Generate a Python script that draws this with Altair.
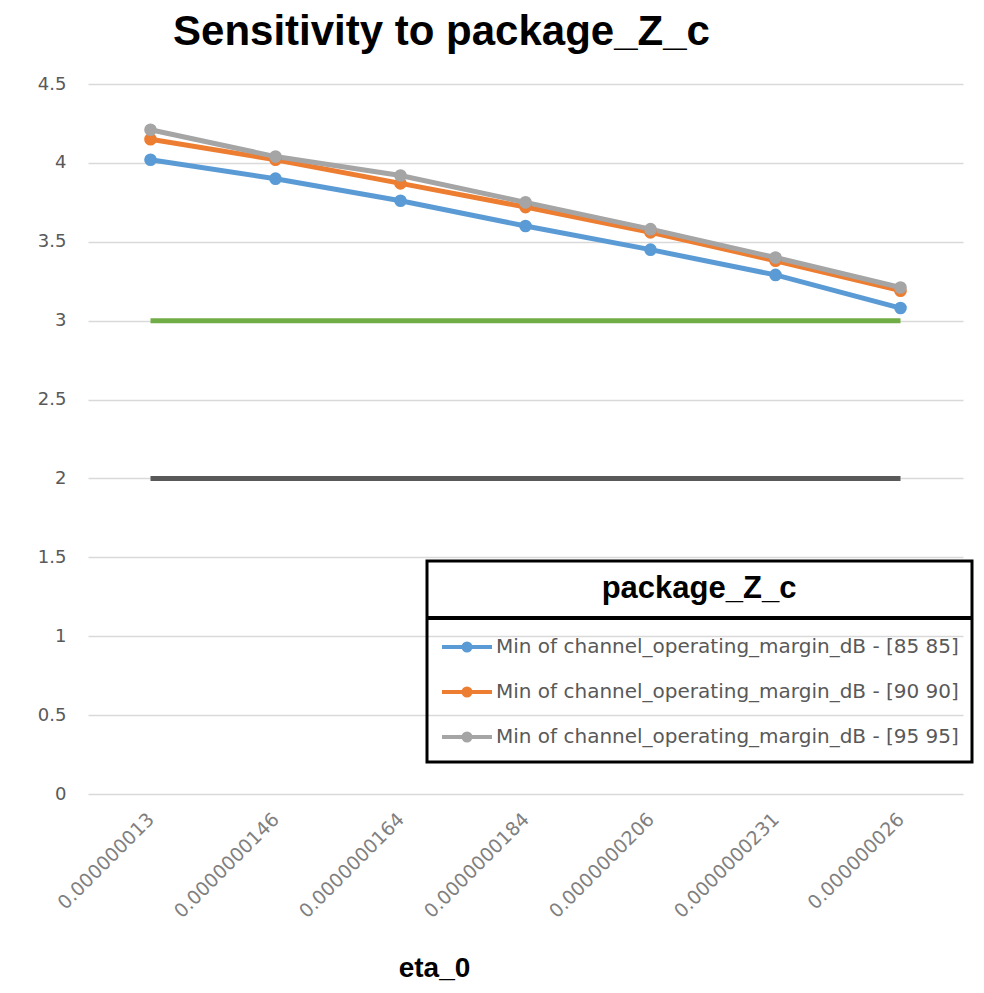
import altair as alt
import pandas as pd

categories = ["0.000000013", "0.0000000146", "0.0000000164", "0.0000000184",
              "0.0000000206", "0.0000000231", "0.000000026"]
series_names = ["Min of channel_operating_margin_dB - [85 85]",
                "Min of channel_operating_margin_dB - [90 90]",
                "Min of channel_operating_margin_dB - [95 95]"]
blue_vals = [4.02, 3.90, 3.76, 3.60, 3.45, 3.29, 3.08]
orange_vals = [4.15, 4.02, 3.87, 3.72, 3.56, 3.38, 3.19]
gray_vals = [4.21, 4.04, 3.92, 3.75, 3.58, 3.40, 3.21]
green_limit = [3.0, 3.0, 3.0, 3.0, 3.0, 3.0, 3.0]
dark_limit = [2.0, 2.0, 2.0, 2.0, 2.0, 2.0, 2.0]
y_ticks = [0, 0.5, 1, 1.5, 2, 2.5, 3, 3.5, 4, 4.5]
colors = ["#5B9BD5", "#ED7D31", "#A5A5A5"]

rows = []
for name, vals in zip(series_names, [blue_vals, orange_vals, gray_vals]):
    for c, v in zip(categories, vals):
        rows.append({"eta_0": c, "value": v, "series": name})
df = pd.DataFrame(rows)

limits = pd.DataFrame({"eta_0": categories, "green": green_limit, "dark": dark_limit})

x_enc = alt.X("eta_0:N", sort=categories, scale=alt.Scale(type="point", padding=0.5),
              axis=alt.Axis(title="eta_0", labelAngle=-45, labelAlign="right",
                            labelBaseline="middle", labelPadding=22,
                            labelFontSize=19, labelColor="#7f7f7f",
                            labelFont="DejaVu Sans",
                            ticks=False, domain=False, grid=False,
                            titleFont="Liberation Sans", titleFontSize=28,
                            titleFontWeight="bold", titleColor="black",
                            titleX=346, titleY=160, titleBaseline="top",
                            titleAnchor="start", titleAlign="center"))
y_scale = alt.Scale(domain=[0, 4.5], nice=False)
y_axis = alt.Axis(title=None, values=y_ticks, format="~g", grid=True,
                  gridColor="#d9d9d9", gridWidth=1.3, domain=False, ticks=False,
                  labelPadding=22, labelFontSize=18, labelColor="#595959",
                  labelFont="DejaVu Sans")

green_line = alt.Chart(limits).mark_line(color="#70AD47", strokeWidth=5).encode(
    x=x_enc, y=alt.Y("green:Q", scale=y_scale, axis=y_axis))
dark_line = alt.Chart(limits).mark_line(color="#595959", strokeWidth=5).encode(
    x=x_enc, y=alt.Y("dark:Q", scale=y_scale, axis=y_axis))

legend_symbol = "M-1,0L1,0M-0.14,0A0.14,0.14,0,1,1,0.14,0A0.14,0.14,0,1,1,-0.14,0"

series = alt.Chart(df).mark_line(strokeWidth=5, point=alt.OverlayMarkDef(size=160, filled=True)).encode(
    x=x_enc,
    y=alt.Y("value:Q", scale=y_scale, axis=y_axis),
    color=alt.Color("series:N", sort=series_names,
                    scale=alt.Scale(domain=series_names, range=colors),
                    legend=alt.Legend(title="package_Z_c", orient="none",
                                      legendX=339, legendY=477,
                                      strokeColor="black", padding=13,
                                      titleFont="Liberation Sans", titleFontSize=31,
                                      titleFontWeight="bold", titleColor="black",
                                      titleAnchor="middle", titlePadding=15,
                                      titleLimit=0, labelLimit=0,
                                      labelFont="DejaVu Sans", labelFontSize=20,
                                      labelColor="#595959", labelOffset=2,
                                      symbolType=legend_symbol, symbolSize=2500,
                                      symbolStrokeWidth=4, rowPadding=6)),
)

divider = alt.Chart(limits).mark_rule(color="black", strokeWidth=3).encode(
    x=alt.value(339), x2=alt.value(884), y=alt.value(534))

chart = alt.layer(green_line, dark_line, series, divider).properties(
    width=875, height=710,
    padding={"left": 80, "top": 76, "right": 13, "bottom": 191},
    autosize=alt.AutoSizeParams(type="none"),
    title=alt.TitleParams("Sensitivity to package_Z_c", font="Liberation Sans",
                          fontSize=42, fontWeight="bold", color="black",
                          anchor="middle", dx=-84, offset=21),
).configure_view(stroke=None).configure_legend(strokeWidth=3)

chart.save("out.html", embed_options={"renderer": "svg", "actions": False})
